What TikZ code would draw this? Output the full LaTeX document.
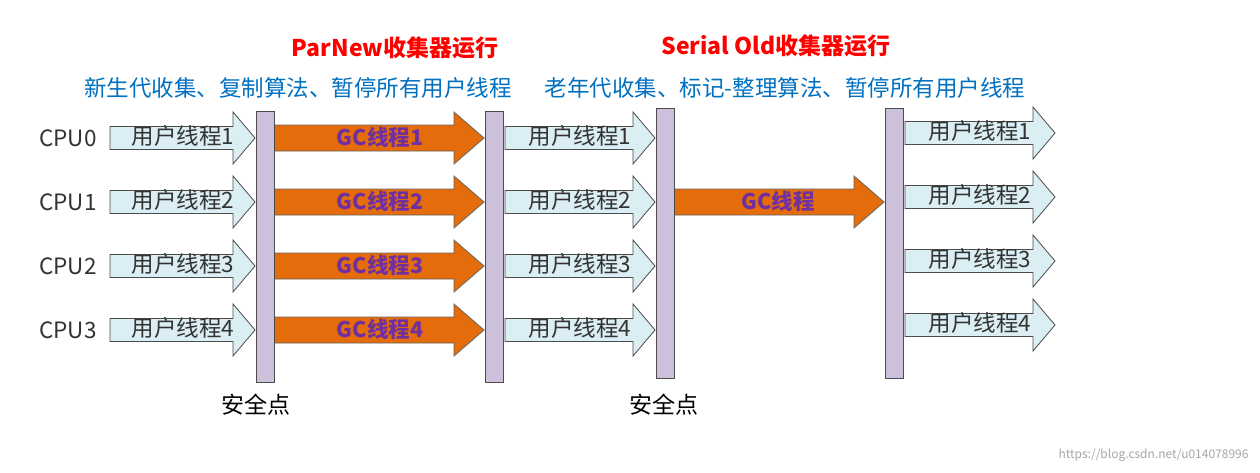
\documentclass[tikz,border=0pt]{standalone}
\usepackage{fontspec}
\setmainfont{Noto Sans CJK SC}
\usetikzlibrary{calc}
\definecolor{ublue}{HTML}{DAEEF3}
\definecolor{gcor}{HTML}{E46C0A}
\definecolor{gcpur}{HTML}{7030A0}
\definecolor{barc}{HTML}{CCC0DA}
\definecolor{tblue}{HTML}{0070C0}
\newcommand{\myarrow}[7]{% style,x1,x2,y,bodyhalf,headhalf,headlen
  \draw[#1] (#2,#4-#5) -- (#3-#7,#4-#5) -- (#3-#7,#4-#6) -- (#3,#4) -- (#3-#7,#4+#6) -- (#3-#7,#4+#5) -- (#2,#4+#5) -- cycle;}
\begin{document}
\begin{tikzpicture}[x=1pt,y=-1pt,
  ust/.style={draw=black!70, fill=ublue, line width=0.8pt},
  gst/.style={draw=black!60, fill=gcor, line width=0.8pt},
  ut/.style={font=\fontsize{22.5}{22.5}\selectfont, text=black!80},
  gt/.style={font=\fontsize{21.5}{21.5}\selectfont\bfseries, text=gcpur},
  cpu/.style={font=\fontsize{22.5}{22.5}\selectfont, text=black!80},
  bar/.style={draw=black!70, fill=barc, line width=0.8pt}]
\useasboundingbox[fill=white] (0,0) rectangle (1260,472);
% titles
\node[font=\fontsize{23}{23}\selectfont\bfseries, text=red] (t1) at (395,48) {ParNew收集器运行};
\node[font=\fontsize{22.5}{22.5}\selectfont, text=tblue] (s1) at (298,88) {新生代收集、复制算法、暂停所有用户线程};
\node[font=\fontsize{23}{23}\selectfont\bfseries, text=red] (t2) at (776,46) {Serial Old收集器运行};
\node[font=\fontsize{22.5}{22.5}\selectfont, text=tblue] (s2) at (785,88) {老年代收集、标记-整理算法、暂停所有用户线程};
\foreach \i/\y in {0/138,1/202,2/266,3/330}{
  \pgfmathtruncatemacro{\n}{\i+1}
  \pgfmathtruncatemacro{\yy}{\y-5}
  \node[cpu] (cpu\i) at (68,\y) {CPU\i};
  \myarrow{ust}{110}{255}{\y}{11.5}{26}{22}
  \node[ut] (ua\i) at (183,\y-2) {用户线程\n};
  \myarrow{gst}{274}{484}{\y}{13}{26}{30}
  \node[gt] (gc\i) at (380,\y-1) {GC线程\n};
  \myarrow{ust}{505}{655}{\y}{11.5}{26}{22}
  \node[ut] (ub\i) at (580,\y-2) {用户线程\n};
  \myarrow{ust}{905}{1055}{\yy}{11.5}{26}{22}
  \node[ut] (uc\i) at (980,\yy-2) {用户线程\n};
}
\myarrow{gst}{674}{884}{202}{13}{26}{30}
\node[gt] (gcs) at (778,201) {GC线程};
% bars
\draw[bar] (256,111) rectangle (274,382);
\draw[bar] (485,111) rectangle (503,382);
\draw[bar] (656,108) rectangle (674,378);
\draw[bar] (885,108) rectangle (903,378);
\node[font=\fontsize{23}{23}\selectfont] (sp1) at (256,405) {安全点};
\node[font=\fontsize{23}{23}\selectfont] (sp2) at (664,405) {安全点};
\node[font=\fontsize{12}{12}\selectfont, text=black!35, anchor=east] (wm) at (1252,455) {https://blog.csdn.net/u014078996};
\end{tikzpicture}
\end{document}
